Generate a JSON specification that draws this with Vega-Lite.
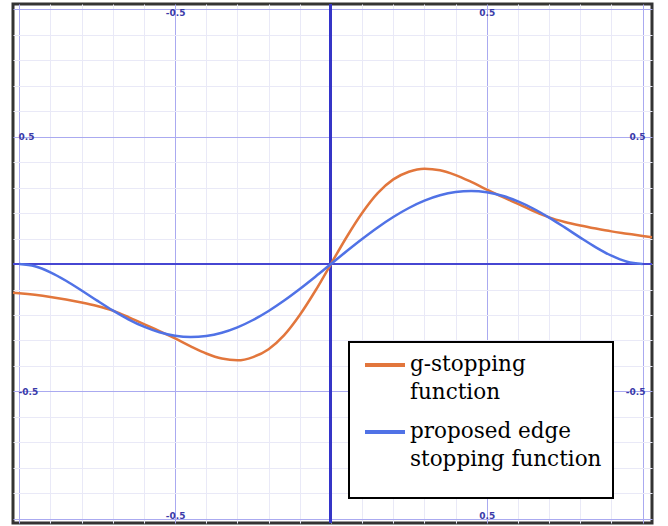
{
  "$schema": "https://vega.github.io/schema/vega-lite/v6.json",
  "width": 639,
  "height": 519,
  "autosize": {"type": "none"},
  "padding": {"left": 13, "top": 4, "right": 16, "bottom": 3},
  "background": "white",
  "config": {
    "view": {"stroke": "#333333", "strokeWidth": 3},
    "style": {"guide-label": {"lineHeight": 27.5}},
    "legend": {"strokeWidth": 2}
  },
  "datasets": {
    "curves": [
      {"x": -1.02, "y": -0.113, "series": "g-stopping function"},
      {"x": -1.0, "y": -0.115, "series": "g-stopping function"},
      {"x": -0.95, "y": -0.121, "series": "g-stopping function"},
      {"x": -0.9, "y": -0.129, "series": "g-stopping function"},
      {"x": -0.85, "y": -0.139, "series": "g-stopping function"},
      {"x": -0.8, "y": -0.151, "series": "g-stopping function"},
      {"x": -0.75, "y": -0.165, "series": "g-stopping function"},
      {"x": -0.7, "y": -0.183, "series": "g-stopping function"},
      {"x": -0.65, "y": -0.208, "series": "g-stopping function"},
      {"x": -0.6, "y": -0.236, "series": "g-stopping function"},
      {"x": -0.55, "y": -0.263, "series": "g-stopping function"},
      {"x": -0.5, "y": -0.292, "series": "g-stopping function"},
      {"x": -0.45, "y": -0.323, "series": "g-stopping function"},
      {"x": -0.4, "y": -0.351, "series": "g-stopping function"},
      {"x": -0.35, "y": -0.371, "series": "g-stopping function"},
      {"x": -0.3, "y": -0.378, "series": "g-stopping function"},
      {"x": -0.25, "y": -0.365, "series": "g-stopping function"},
      {"x": -0.2, "y": -0.334, "series": "g-stopping function"},
      {"x": -0.15, "y": -0.279, "series": "g-stopping function"},
      {"x": -0.1, "y": -0.2, "series": "g-stopping function"},
      {"x": -0.05, "y": -0.105, "series": "g-stopping function"},
      {"x": 0.0, "y": 0.0, "series": "g-stopping function"},
      {"x": 0.05, "y": 0.105, "series": "g-stopping function"},
      {"x": 0.1, "y": 0.2, "series": "g-stopping function"},
      {"x": 0.15, "y": 0.278, "series": "g-stopping function"},
      {"x": 0.2, "y": 0.332, "series": "g-stopping function"},
      {"x": 0.25, "y": 0.362, "series": "g-stopping function"},
      {"x": 0.3, "y": 0.374, "series": "g-stopping function"},
      {"x": 0.35, "y": 0.368, "series": "g-stopping function"},
      {"x": 0.4, "y": 0.349, "series": "g-stopping function"},
      {"x": 0.45, "y": 0.322, "series": "g-stopping function"},
      {"x": 0.5, "y": 0.292, "series": "g-stopping function"},
      {"x": 0.55, "y": 0.263, "series": "g-stopping function"},
      {"x": 0.6, "y": 0.236, "series": "g-stopping function"},
      {"x": 0.65, "y": 0.208, "series": "g-stopping function"},
      {"x": 0.7, "y": 0.183, "series": "g-stopping function"},
      {"x": 0.75, "y": 0.165, "series": "g-stopping function"},
      {"x": 0.8, "y": 0.151, "series": "g-stopping function"},
      {"x": 0.85, "y": 0.139, "series": "g-stopping function"},
      {"x": 0.9, "y": 0.128, "series": "g-stopping function"},
      {"x": 0.95, "y": 0.119, "series": "g-stopping function"},
      {"x": 1.0, "y": 0.11, "series": "g-stopping function"},
      {"x": 1.03, "y": 0.105, "series": "g-stopping function"},
      {"x": -1.0, "y": 0.0, "series": "proposed edge stopping function"},
      {"x": -0.95, "y": -0.009, "series": "proposed edge stopping function"},
      {"x": -0.9, "y": -0.0325, "series": "proposed edge stopping function"},
      {"x": -0.85, "y": -0.0655, "series": "proposed edge stopping function"},
      {"x": -0.8, "y": -0.1037, "series": "proposed edge stopping function"},
      {"x": -0.75, "y": -0.1436, "series": "proposed edge stopping function"},
      {"x": -0.7, "y": -0.1821, "series": "proposed edge stopping function"},
      {"x": -0.65, "y": -0.2168, "series": "proposed edge stopping function"},
      {"x": -0.6, "y": -0.2458, "series": "proposed edge stopping function"},
      {"x": -0.55, "y": -0.2676, "series": "proposed edge stopping function"},
      {"x": -0.5, "y": -0.2813, "series": "proposed edge stopping function"},
      {"x": -0.45, "y": -0.2862, "series": "proposed edge stopping function"},
      {"x": -0.4, "y": -0.2822, "series": "proposed edge stopping function"},
      {"x": -0.35, "y": -0.2695, "series": "proposed edge stopping function"},
      {"x": -0.3, "y": -0.2484, "series": "proposed edge stopping function"},
      {"x": -0.25, "y": -0.2197, "series": "proposed edge stopping function"},
      {"x": -0.2, "y": -0.1843, "series": "proposed edge stopping function"},
      {"x": -0.15, "y": -0.1433, "series": "proposed edge stopping function"},
      {"x": -0.1, "y": -0.098, "series": "proposed edge stopping function"},
      {"x": -0.05, "y": -0.0498, "series": "proposed edge stopping function"},
      {"x": 0.0, "y": 0.0, "series": "proposed edge stopping function"},
      {"x": 0.05, "y": 0.0498, "series": "proposed edge stopping function"},
      {"x": 0.1, "y": 0.098, "series": "proposed edge stopping function"},
      {"x": 0.15, "y": 0.1433, "series": "proposed edge stopping function"},
      {"x": 0.2, "y": 0.1843, "series": "proposed edge stopping function"},
      {"x": 0.25, "y": 0.2197, "series": "proposed edge stopping function"},
      {"x": 0.3, "y": 0.2484, "series": "proposed edge stopping function"},
      {"x": 0.35, "y": 0.2695, "series": "proposed edge stopping function"},
      {"x": 0.4, "y": 0.2822, "series": "proposed edge stopping function"},
      {"x": 0.45, "y": 0.2862, "series": "proposed edge stopping function"},
      {"x": 0.5, "y": 0.2813, "series": "proposed edge stopping function"},
      {"x": 0.55, "y": 0.2676, "series": "proposed edge stopping function"},
      {"x": 0.6, "y": 0.2458, "series": "proposed edge stopping function"},
      {"x": 0.65, "y": 0.2168, "series": "proposed edge stopping function"},
      {"x": 0.7, "y": 0.1821, "series": "proposed edge stopping function"},
      {"x": 0.75, "y": 0.1436, "series": "proposed edge stopping function"},
      {"x": 0.8, "y": 0.1037, "series": "proposed edge stopping function"},
      {"x": 0.85, "y": 0.0655, "series": "proposed edge stopping function"},
      {"x": 0.9, "y": 0.0325, "series": "proposed edge stopping function"},
      {"x": 0.95, "y": 0.009, "series": "proposed edge stopping function"},
      {"x": 1.0, "y": 0.0, "series": "proposed edge stopping function"}
    ]
  },
  "data": {"name": "curves"},
  "layer": [
    {
      "mark": {"type": "rule", "color": "#3636c6", "strokeWidth": 2},
      "encoding": {
        "x": {
          "datum": 0,
          "type": "quantitative",
          "axis": {
            "orient": "top",
            "values": [-0.5, 0.5],
            "grid": false,
            "domain": false,
            "ticks": false,
            "title": null,
            "labelExpr": "datum.value == 0.5 ? '0.5' : datum.value == -0.5 ? '-0.5' : ''",
            "labelPadding": -13,
            "labelFont": "DejaVu Sans",
            "labelFontWeight": "bold",
            "labelFontSize": 9,
            "labelColor": "#3a3aa8",
            "labelOverlap": false,
            "labelFlush": false
          }
        }
      }
    },
    {
      "mark": {"type": "rule", "color": "#4646d2", "strokeWidth": 2},
      "encoding": {
        "y": {
          "datum": 0,
          "type": "quantitative",
          "axis": {
            "orient": "right",
            "values": [-0.5, 0.5],
            "grid": false,
            "domain": false,
            "ticks": false,
            "title": null,
            "labelExpr": "datum.value == 0.5 ? '0.5' : datum.value == -0.5 ? '-0.5' : ''",
            "labelAlign": "right",
            "labelPadding": -7,
            "labelFont": "DejaVu Sans",
            "labelFontWeight": "bold",
            "labelFontSize": 9,
            "labelColor": "#3a3aa8",
            "labelOverlap": false,
            "labelFlush": false
          }
        }
      }
    },
    {
      "mark": {"type": "line", "strokeWidth": 2.5, "interpolate": "monotone"},
      "encoding": {
        "x": {
          "field": "x",
          "type": "quantitative",
          "scale": {"domain": [-1.02, 1.03], "nice": false, "zero": false},
          "axis": {
            "orient": "bottom",
            "values": [-1, -0.9, -0.8, -0.7, -0.6, -0.5, -0.4, -0.3, -0.2, -0.1, 0, 0.1, 0.2, 0.3, 0.4, 0.5, 0.6, 0.7, 0.8, 0.9, 1],
            "grid": true,
            "gridColor": {"condition": {"test": "abs(datum.value) == 0.5 || abs(datum.value) == 1", "value": "#aaaaf0"}, "value": "#e9e9f7"},
            "gridWidth": 1,
            "domain": false,
            "ticks": false,
            "title": null,
            "labelExpr": "datum.value == 0.5 ? '0.5' : datum.value == -0.5 ? '-0.5' : ''",
            "labelPadding": -12,
            "labelFont": "DejaVu Sans",
            "labelFontWeight": "bold",
            "labelFontSize": 9,
            "labelColor": "#3a3aa8",
            "labelOverlap": false,
            "labelFlush": false
          }
        },
        "y": {
          "field": "y",
          "type": "quantitative",
          "scale": {"domain": [-1.016, 1.02], "nice": false, "zero": false},
          "axis": {
            "orient": "left",
            "values": [-1, -0.9, -0.8, -0.7, -0.6, -0.5, -0.4, -0.3, -0.2, -0.1, 0, 0.1, 0.2, 0.3, 0.4, 0.5, 0.6, 0.7, 0.8, 0.9, 1],
            "grid": true,
            "gridColor": {"condition": {"test": "abs(datum.value) == 0.5 || abs(datum.value) == 1", "value": "#aaaaf0"}, "value": "#e9e9f7"},
            "gridWidth": 1,
            "domain": false,
            "ticks": false,
            "title": null,
            "labelExpr": "datum.value == 0.5 ? '0.5' : datum.value == -0.5 ? '-0.5' : ''",
            "labelAlign": "left",
            "labelPadding": -5,
            "labelFont": "DejaVu Sans",
            "labelFontWeight": "bold",
            "labelFontSize": 9,
            "labelColor": "#3a3aa8",
            "labelOverlap": false,
            "labelFlush": false
          }
        },
        "color": {
          "field": "series",
          "type": "nominal",
          "scale": {"domain": ["g-stopping function", "proposed edge stopping function"], "range": ["#e2763c", "#5072e6"]},
          "legend": {
            "orient": "none",
            "legendX": 336,
            "legendY": 338,
            "title": " ",
            "titleOrient": "bottom",
            "titleFontSize": 11,
            "titlePadding": 6,
            "strokeColor": "black",
            "fillColor": "white",
            "padding": 11,
            "symbolType": "M-1,0H3",
            "symbolSize": 400,
            "symbolOffset": 3,
            "symbolStrokeWidth": 4,
            "labelFont": "DejaVu Serif",
            "labelFontSize": 21.5,
            "labelColor": "black",
            "labelOffset": 23,
            "labelLimit": 400,
            "rowPadding": 17,
            "labelExpr": "datum.label == 'g-stopping function' ? ['g-stopping', 'function'] : ['proposed edge', 'stopping function']"
          }
        }
      }
    }
  ]
}
